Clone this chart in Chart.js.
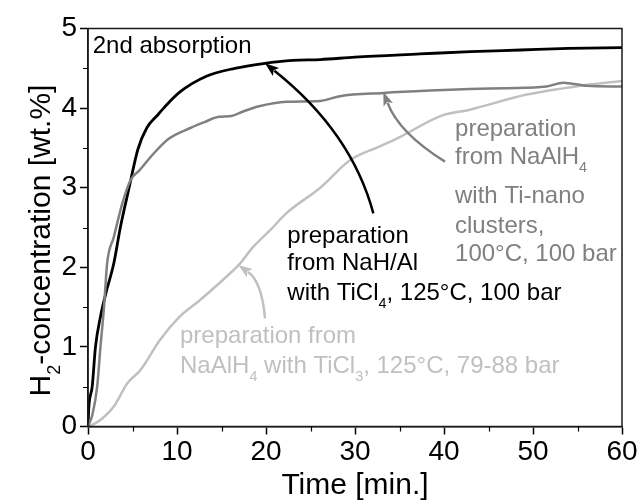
<!DOCTYPE html>
<html><head><meta charset="utf-8">
<script src="https://cdn.jsdelivr.net/npm/chart.js@4.4.1/dist/chart.umd.min.js"></script>
<style>html,body{margin:0;padding:0;background:#fff}#wrap{width:640px;height:504px}</style>
</head><body><div id="wrap"><canvas id="c" width="640" height="504"></canvas></div>
<script>
// ---- data (time in min, H2 concentration in wt.%) ----
const timeNaHAl = [0, 0.1, 0.47, 0.84, 1.4, 2.0, 2.9, 3.65, 4.6, 5.6, 6.6, 7.8, 8.5, 10.3, 13.3, 16.5, 19.7, 23, 26.1, 30, 37.3, 43, 48.6, 54, 60];
const concNaHAl = [0, 0.25, 0.5, 1.0, 1.38, 1.67, 2.05, 2.51, 2.99, 3.48, 3.75, 3.91, 4.0, 4.2, 4.4, 4.5, 4.56, 4.6, 4.61, 4.64, 4.68, 4.71, 4.73, 4.75, 4.76];

const timeTiNano = [0, 0.5, 1.03, 1.4, 1.8, 2.15, 2.9, 3.85, 4.8, 5.8, 7.3, 9.0, 11.5, 13, 14.7, 16.1, 17.5, 19.1, 22.3, 26.1, 28.3, 33.2, 38.4, 42.9, 47, 51.5, 53.4, 56, 60];
const concTiNano = [0, 0.15, 0.5, 1.0, 1.5, 2.05, 2.38, 2.8, 3.1, 3.22, 3.42, 3.61, 3.75, 3.82, 3.89, 3.9, 3.96, 4.02, 4.08, 4.09, 4.15, 4.19, 4.22, 4.24, 4.25, 4.27, 4.32, 4.28, 4.27];

const timeTiCl3 = [0, 0.8, 1.6, 2.9, 4.4, 5.9, 8.1, 10.3, 12.6, 16.3, 17.1, 18.5, 20.5, 22.3, 26.1, 29.5, 32.8, 35.1, 39.6, 42.9, 49.3, 55.3, 60];
const concTiCl3 = [0, 0.04, 0.1, 0.25, 0.54, 0.71, 1.09, 1.38, 1.59, 1.96, 2.05, 2.25, 2.47, 2.68, 3.0, 3.35, 3.52, 3.64, 3.9, 3.98, 4.17, 4.28, 4.34];

const xTickValues = [0, 10, 20, 30, 40, 50, 60];
const xTickLabels = ['0', '10', '20', '30', '40', '50', '60'];
const yTickValues = [0, 1, 2, 3, 4, 5];
const yTickLabels = ['0', '1', '2', '3', '4', '5'];
const xMinorTicks = [5, 15, 25, 35, 45, 55];
const yMinorTicks = [0.5, 1.5, 2.5, 3.5, 4.5];

// ---- annotations (anchors in data units) ----
const FONT = '"Liberation Sans", Arial, Helvetica, sans-serif';
const annotations = [
  {x: 0.53, y: 4.696, color: '#000', size: 24, lines: [[{t: '2nd absorption'}]], dy: [0]},
  {x: 22.4, y: 2.305, color: '#000', size: 24, dy: [0, 27, 57], lines: [
    [{t: 'preparation'}],
    [{t: 'from NaH/Al'}],
    [{t: 'with TiCl'}, {t: '4', sub: true}, {t: ', 125°C, 100 bar'}]]},
  {x: 41.24, y: 3.65, color: '#808080', size: 24, dy: [0, 28, 67, 97, 125], lines: [
    [{t: 'preparation'}],
    [{t: 'from NaAlH'}, {t: '4', sub: true}],
    [{t: 'with Ti-nano'}],
    [{t: 'clusters,'}],
    [{t: '100°C, 100 bar'}]]},
  {x: 10.34, y: 1.049, color: '#c0c0c0', size: 24, dy: [0, 30], lines: [
    [{t: 'preparation from'}],
    [{t: 'NaAlH'}, {t: '4', sub: true}, {t: ' with TiCl'}, {t: '3', sub: true}, {t: ', 125°C, 79-88 bar'}]]}
];
const arrows = [
  {color: '#000', tail: [32.06, 2.678], ctrl: [29.6, 3.70], tip: [19.89, 4.563]},
  {color: '#808080', tail: [40.11, 3.327], ctrl: [34.94, 3.687], tip: [33.18, 4.206]},
  {color: '#c0c0c0', tail: [19.89, 1.359], ctrl: [19.53, 1.818], tip: [16.89, 2.029]}
];

function pts(xs, ys) { return xs.map((x, i) => ({x: x, y: ys[i]})); }

function drawRich(ctx, x, y, segs, size, color) {
  let cx = x;
  ctx.fillStyle = color;
  ctx.textBaseline = 'alphabetic';
  ctx.textAlign = 'left';
  for (const s of segs) {
    const fs = s.sub ? size * 0.6 : size;
    ctx.font = fs + 'px ' + FONT;
    ctx.fillText(s.t, cx, y + (s.sub ? size * 0.34 : 0));
    cx += ctx.measureText(s.t).width;
  }
  return cx - x;
}
function richWidth(ctx, segs, size) {
  let w = 0;
  for (const s of segs) {
    ctx.font = (s.sub ? size * 0.6 : size) + 'px ' + FONT;
    w += ctx.measureText(s.t).width;
  }
  return w;
}

const decor = {
  id: 'decor',
  afterDraw(chart) {
    const ctx = chart.ctx, a = chart.chartArea;
    const xs = chart.scales.x, ys = chart.scales.y;
    ctx.save();
    // frame
    ctx.strokeStyle = '#1a1a1a';
    ctx.lineWidth = 1.5;
    ctx.strokeRect(a.left, a.top, a.right - a.left, a.bottom - a.top);
    // minor ticks
    ctx.beginPath();
    for (const v of xMinorTicks) {
      const px = Math.round(xs.getPixelForValue(v)) + 0.5;
      ctx.moveTo(px, a.bottom); ctx.lineTo(px, a.bottom + 5);
    }
    for (const v of yMinorTicks) {
      const py = Math.round(ys.getPixelForValue(v)) + 0.5;
      ctx.moveTo(a.left, py); ctx.lineTo(a.left - 5, py);
    }
    ctx.lineWidth = 1.2;
    ctx.strokeStyle = '#000';
    ctx.stroke();

    // arrows
    for (const ar of arrows) {
      const p0 = [xs.getPixelForValue(ar.tail[0]), ys.getPixelForValue(ar.tail[1])];
      const c = [xs.getPixelForValue(ar.ctrl[0]), ys.getPixelForValue(ar.ctrl[1])];
      const p2 = [xs.getPixelForValue(ar.tip[0]), ys.getPixelForValue(ar.tip[1])];
      let dx = p2[0] - c[0], dy = p2[1] - c[1];
      const L = Math.hypot(dx, dy); dx /= L; dy /= L;
      const hl = 14, hw = 5;
      const base = [p2[0] - dx * hl, p2[1] - dy * hl];
      ctx.strokeStyle = ar.color; ctx.fillStyle = ar.color;
      ctx.lineWidth = 2.5;
      ctx.beginPath();
      ctx.moveTo(p0[0], p0[1]);
      ctx.quadraticCurveTo(c[0], c[1], base[0] + dx * 2, base[1] + dy * 2);
      ctx.stroke();
      ctx.beginPath();
      ctx.moveTo(p2[0], p2[1]);
      ctx.lineTo(base[0] - dy * hw, base[1] + dx * hw);
      ctx.lineTo(base[0] + dx * 3, base[1] + dy * 3);
      ctx.lineTo(base[0] + dy * hw, base[1] - dx * hw);
      ctx.closePath();
      ctx.fill();
    }
    // text annotations
    for (const an of annotations) {
      const x0 = xs.getPixelForValue(an.x), y0 = ys.getPixelForValue(an.y);
      an.lines.forEach((segs, i) => drawRich(ctx, x0, y0 + an.dy[i], segs, an.size, an.color));
    }
    // y-axis title with subscript
    const title = [{t: 'H'}, {t: '2', sub: true}, {t: '-concentration [wt.%]'}];
    const ts = 30;
    const w = richWidth(ctx, title, ts);
    ctx.translate(50, (a.top + a.bottom) / 2 + 13);
    ctx.rotate(-Math.PI / 2);
    drawRich(ctx, -w / 2, 0, title, ts, '#000');
    ctx.restore();
  }
};

new Chart(document.getElementById('c'), {
  type: 'line',
  data: {
    datasets: [
      {label: 'NaAlH4 + Ti-nano clusters, 100°C, 100 bar', data: pts(timeTiNano, concTiNano), borderColor: '#808080', borderWidth: 2.5, pointRadius: 0, cubicInterpolationMode: 'monotone', fill: false},
      {label: 'NaH/Al + TiCl4, 125°C, 100 bar', data: pts(timeNaHAl, concNaHAl), borderColor: '#000000', borderWidth: 2.8, pointRadius: 0, cubicInterpolationMode: 'monotone', fill: false},
      {label: 'NaAlH4 + TiCl3, 125°C, 79-88 bar', data: pts(timeTiCl3, concTiCl3), borderColor: '#c0c0c0', borderWidth: 2.5, pointRadius: 0, cubicInterpolationMode: 'monotone', fill: false}
    ]
  },
  options: {
    responsive: false,
    animation: false,
    devicePixelRatio: 1,
    layout: {padding: {left: 0, right: 18, top: 28.5, bottom: 0}},
    plugins: {legend: {display: false}, tooltip: {enabled: false}},
    scales: {
      x: {
        type: 'linear', min: 0, max: 60,
        afterBuildTicks: s => { s.ticks = xTickValues.map(v => ({value: v})); },
        afterFit: s => { s.height = 77.5; },
        ticks: {callback: (v) => xTickLabels[xTickValues.indexOf(v)], color: '#000', font: {size: 28, family: FONT}, padding: 1, maxRotation: 0, autoSkip: false},
        grid: {drawOnChartArea: false, drawTicks: true, tickLength: 8, tickColor: '#000', tickWidth: 1.5},
        border: {display: true, color: '#1a1a1a', width: 1.5},
        title: {display: true, text: 'Time [min.]', color: '#000', font: {size: 30, family: FONT}, padding: {top: 0, bottom: 0}}
      },
      y: {
        type: 'linear', min: 0, max: 5,
        afterBuildTicks: s => { s.ticks = yTickValues.map(v => ({value: v})); },
        afterFit: s => { s.width = 88; },
        ticks: {callback: (v) => yTickLabels[yTickValues.indexOf(v)], color: '#000', font: {size: 28, family: FONT}, padding: 3, autoSkip: false},
        grid: {drawOnChartArea: false, drawTicks: true, tickLength: 8, tickColor: '#000', tickWidth: 1.5},
        border: {display: true, color: '#1a1a1a', width: 1.5}
      }
    }
  },
  plugins: [decor]
});
</script></body></html>
